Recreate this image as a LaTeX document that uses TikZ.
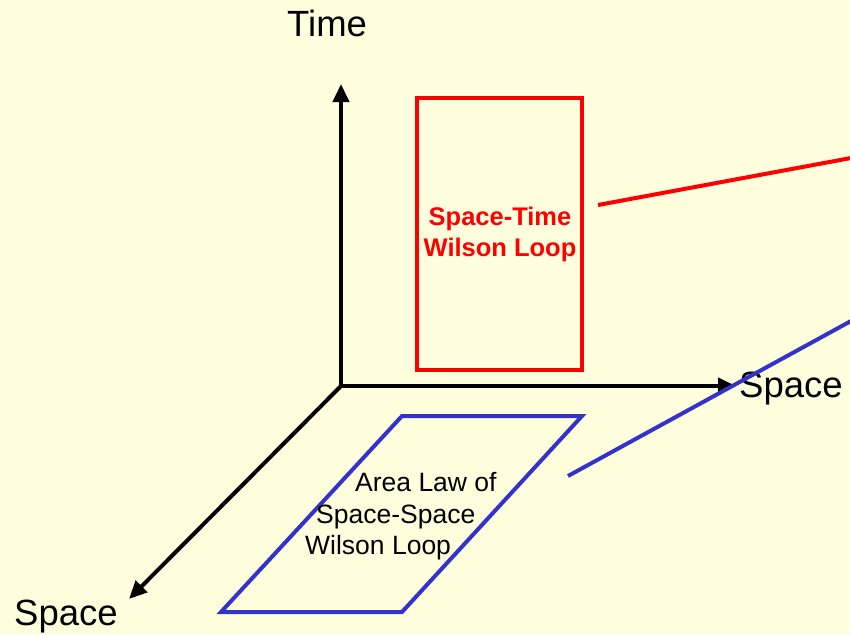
\documentclass[tikz,border=0pt]{standalone}
\usepackage{fontspec}
\setmainfont{Liberation Sans}
\usetikzlibrary{arrows.meta}
\definecolor{bgyellow}{RGB}{255,255,221}
\definecolor{loopred}{RGB}{255,0,0}
\definecolor{loopblue}{RGB}{51,51,204}
\tikzset{
  axis/.style={line width=4pt, -{Triangle[length=18pt,width=16pt]}},
  redloop/.style={draw=loopred, line width=4pt},
  blueloop/.style={draw=loopblue, line width=4pt},
  biglabel/.style={font=\fontsize{36.5}{40}\selectfont, inner sep=0pt, anchor=base west},
  redlabel/.style={text=loopred, font=\bfseries\fontsize{25.5}{31}\selectfont, inner sep=0pt, anchor=base},
  arealabel/.style={font=\fontsize{26.5}{31}\selectfont, inner sep=0pt, anchor=base west}
}
\begin{document}
\begin{tikzpicture}[x=1pt,y=-1pt]
\fill[bgyellow] (0,0) rectangle (850,634);
\useasboundingbox (0,0) rectangle (850,634);
% axes
\coordinate (O) at (341,386);
\coordinate (T) at (341,84);
\coordinate (SR) at (736,386);
\coordinate (SD) at (129,599);
\draw[axis] (O) -- (T);
\draw[axis] (O) -- (SR);
\draw[axis] (O) -- (SD);
\node[biglabel] (timelbl) at (287,37) {Time};
\node[biglabel] (spacer) at (739,397) {Space};
\node[biglabel] (spaced) at (14,625) {Space};
% red space-time loop
\node[redloop, minimum width=165pt, minimum height=272pt, inner sep=0pt] (rloop) at (499.5,234) {};
\node[redlabel] (rl1) at (500,225) {Space-Time};
\node[redlabel] (rl2) at (500,256) {Wilson Loop};
\coordinate (r1) at (598,205);
\coordinate (r2) at (851,158);
\draw[draw=loopred, line width=4pt] (r1) -- (r2);
% blue space-space loop
\coordinate (b1) at (402,416);
\coordinate (b2) at (582,416);
\coordinate (b3) at (402,612);
\coordinate (b4) at (221,612);
\draw[blueloop] (b1) -- (b2) -- (b3) -- (b4) -- cycle;
\node[arealabel] (al1) at (355,491) {Area Law of};
\node[arealabel] (al2) at (316,523) {Space-Space};
\node[arealabel] (al3) at (305,554) {Wilson Loop};
\coordinate (bl1) at (568,476);
\coordinate (bl2) at (851,321);
\draw[draw=loopblue, line width=4pt] (bl1) -- (bl2);
\end{tikzpicture}
\end{document}
